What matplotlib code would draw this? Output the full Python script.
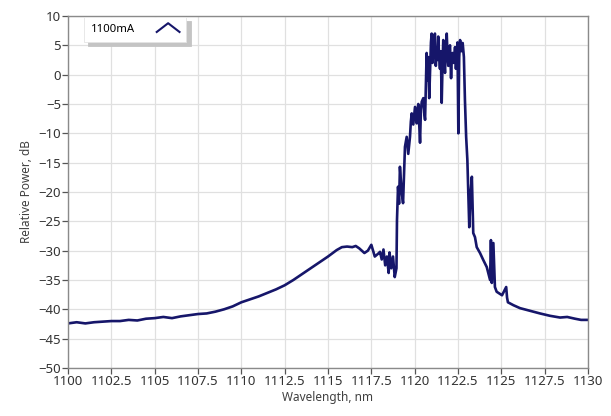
import numpy as np
import matplotlib.pyplot as plt
from matplotlib.legend_handler import HandlerBase
from matplotlib.lines import Line2D

# spectrum (wavelength nm, relative power dB)
wavelength = [
    1100.0, 1100.5, 1101.0, 1101.5, 1102.0, 1102.5, 1103.0, 1103.5, 1104.0, 1104.5,
    1105.0, 1105.5, 1106.0, 1106.5, 1107.0, 1107.5, 1108.0, 1108.5, 1109.0, 1109.5,
    1110.0, 1110.5, 1111.0, 1111.5, 1112.0, 1112.5, 1113.0, 1113.5, 1114.0, 1114.5,
    1115.0, 1115.5, 1115.8, 1116.1, 1116.4, 1116.6, 1116.8, 1117.1, 1117.3, 1117.5,
    1117.7, 1117.9, 1118.0, 1118.1, 1118.2, 1118.3, 1118.4, 1118.5, 1118.55, 1118.65,
    1118.75, 1118.85, 1118.95, 1118.98, 1119.04, 1119.1, 1119.15, 1119.25, 1119.33, 1119.44,
    1119.54, 1119.63, 1119.73, 1119.78, 1119.83, 1119.92, 1119.97, 1120.02, 1120.12, 1120.16,
    1120.21, 1120.31, 1120.36, 1120.41, 1120.50, 1120.55, 1120.60, 1120.69, 1120.74, 1120.79,
    1120.84, 1120.90, 1120.94, 1120.98, 1121.03, 1121.07, 1121.12, 1121.17, 1121.22, 1121.27,
    1121.32, 1121.36, 1121.41, 1121.46, 1121.51, 1121.56, 1121.61, 1121.65, 1121.70, 1121.75,
    1121.80, 1121.85, 1121.90, 1121.94, 1122.00, 1122.04, 1122.10, 1122.15, 1122.19, 1122.26,
    1122.33, 1122.38, 1122.42, 1122.47, 1122.52, 1122.57, 1122.62, 1122.70, 1122.77, 1122.84,
    1122.90, 1122.97, 1123.04, 1123.15, 1123.23, 1123.30, 1123.38, 1123.48, 1123.58, 1123.77,
    1123.96, 1124.16, 1124.35, 1124.40, 1124.45, 1124.54, 1124.63, 1124.73, 1124.83, 1125.04,
    1125.28, 1125.33, 1125.38, 1125.7, 1126.08, 1126.6, 1127.23, 1127.8, 1128.39, 1128.8,
    1129.25, 1129.6, 1130.0,
]
power_db = [
    -42.4, -42.2, -42.4, -42.2, -42.1, -42.0, -42.0, -41.8, -41.9, -41.6,
    -41.5, -41.3, -41.5, -41.2, -41.0, -40.8, -40.7, -40.4, -40.0, -39.5,
    -38.8, -38.3, -37.8, -37.2, -36.6, -35.9, -35.0, -34.0, -33.0, -32.0,
    -31.0, -29.9, -29.4, -29.3, -29.4, -29.2, -29.6, -30.4, -30.0, -29.0,
    -31.0, -30.5, -30.2, -31.5, -29.8, -32.5, -31.0, -33.8, -30.3, -33.0,
    -31.0, -34.5, -33.0, -24.8, -19.1, -22.0, -15.7, -20.0, -21.9, -12.3,
    -10.6, -13.5, -10.6, -8.0, -6.6, -8.5, -7.0, -5.5, -8.3, -6.0,
    -5.0, -11.6, -6.0, -4.6, -4.0, -6.5, -7.7, 3.7, -1.0, 3.0,
    -4.0, 2.0, 5.5, 7.0, 2.0, 3.7, 6.5, 7.0, 1.5, 4.5,
    2.5, 6.5, 3.0, 1.0, 4.0, -4.8, 2.0, 5.9, 2.5, 0.3,
    5.0, 7.0, 3.0, 1.5, 4.5, 5.0, -0.6, 3.5, 3.7, 2.0,
    4.7, 1.0, 3.0, 5.5, -10.0, 3.0, 5.9, 4.0, 5.4, 3.0,
    -4.3, -10.6, -14.5, -26.0, -20.0, -17.4, -27.0, -27.7, -29.4, -30.4,
    -31.6, -32.8, -35.0, -28.2, -35.5, -28.7, -36.2, -37.0, -37.2, -37.6,
    -36.2, -38.0, -38.8, -39.3, -39.8, -40.2, -40.7, -41.1, -41.4, -41.3,
    -41.6, -41.8, -41.8,
]

label = '1100mA'
line_color = '#16166a'
x_ticks = np.arange(1100, 1130.1, 2.5)
x_ticklabels = ['1100', '1102.5', '1105', '1107.5', '1110', '1112.5', '1115',
                '1117.5', '1120', '1122.5', '1125', '1127.5', '1130']
y_ticks = np.arange(-50, 11, 5)

plt.rcParams['font.family'] = ['Noto Sans', 'DejaVu Sans']


class HandlerCaret(HandlerBase):
    # legend sample drawn as a small "^" like the instrument software
    def create_artists(self, legend, orig_handle, xdescent, ydescent,
                       width, height, fontsize, trans):
        xs = [0.0, 0.5 * width, width]
        ys = [0.0, 1.1 * height, 0.0]
        ln = Line2D(xs, ys, color=orig_handle.get_color(), lw=1.5,
                    transform=trans)
        return [ln]


fig = plt.figure(figsize=(6.11, 4.16), dpi=100)
ax = fig.add_axes([68 / 611, 1 - 368 / 416, 520 / 611, 352 / 416])

line, = ax.plot(wavelength, power_db, color=line_color, lw=1.9)

ax.set_xlim(1100, 1130)
ax.set_ylim(-50, 10)
ax.set_xticks(x_ticks)
ax.set_xticklabels(x_ticklabels)
ax.set_yticks(y_ticks)
ax.grid(True, color='#e0e0e0', lw=0.9)
ax.set_axisbelow(True)
for s in ax.spines.values():
    s.set_color('#8a8a8a')
    s.set_linewidth(1.0)
ax.tick_params(direction='out', length=4, width=0.9, color='#555555',
               labelsize=9.5, labelcolor='#333333', pad=1)
ax.set_xlabel('Wavelength, nm', fontsize=8.5, color='#404040', labelpad=2)
ax.set_ylabel('Relative Power, dB', fontsize=8.5, color='#404040', labelpad=4)

leg = ax.legend([line], [label], loc='upper left',
                bbox_to_anchor=(15 / 520, 1.0), borderaxespad=0.1,
                markerfirst=False, handler_map={Line2D: HandlerCaret()},
                fontsize=8.2, handlelength=2.0, handletextpad=1.9,
                borderpad=0.6, fancybox=False,
                shadow={'color': '#c4c4c4', 'alpha': 1, 'ox': 3, 'oy': -3},
                framealpha=1, edgecolor='#e4e4e4')
leg.get_frame().set_linewidth(0.6)

plt.savefig('out.png', dpi=100)
